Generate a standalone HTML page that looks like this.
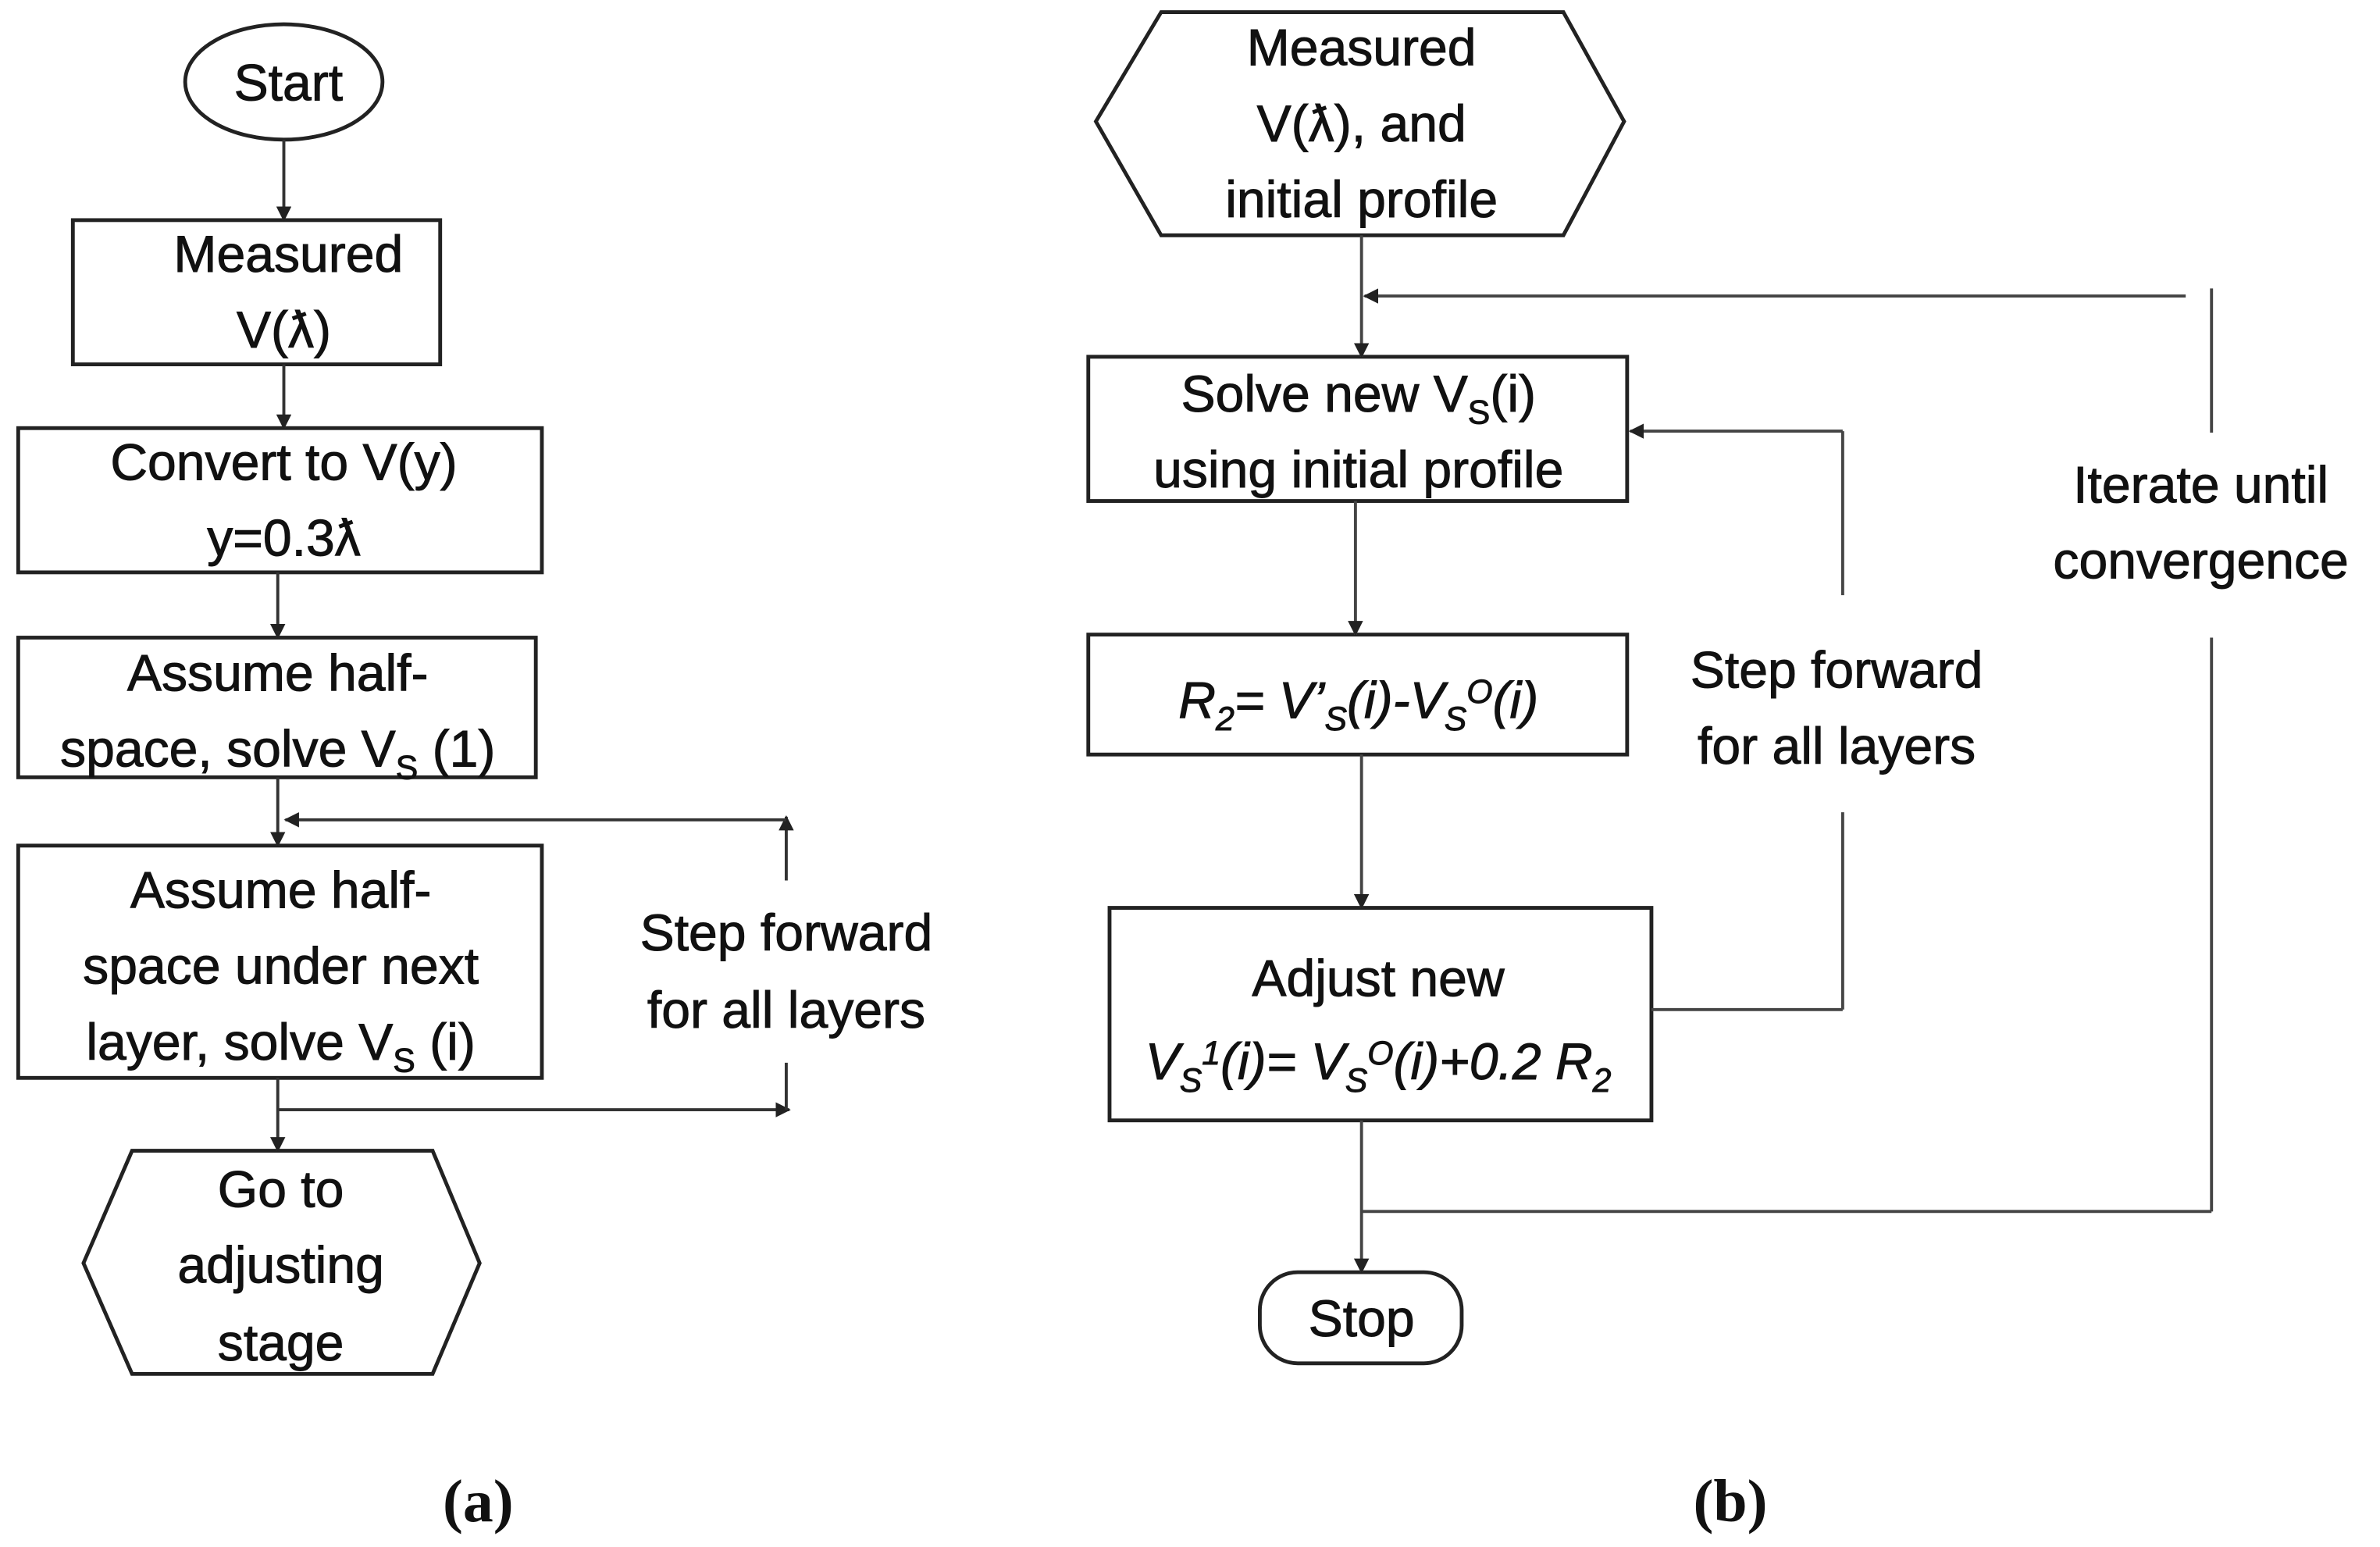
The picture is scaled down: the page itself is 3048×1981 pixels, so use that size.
<!DOCTYPE html>
<html><head><meta charset="utf-8"><style>
html,body{margin:0;padding:0;background:#fff;}
svg{display:block;}
text{font-family:"Liberation Sans",sans-serif;font-size:34px;fill:#111;stroke:#111;stroke-width:0.5;text-anchor:middle;}
.lab{font-family:"Liberation Serif",serif;font-size:40px;font-weight:bold;stroke-width:0;}
</style></head><body>
<svg width="3048" height="1981" viewBox="0 0 1568 1019" preserveAspectRatio="none" xmlns="http://www.w3.org/2000/svg">
<defs>
<marker id="a" markerWidth="10" markerHeight="10" refX="9" refY="5" orient="auto" markerUnits="userSpaceOnUse"><path d="M0,0 L10,5 L0,10 z" fill="#222"/></marker>
</defs>
<g stroke="#222" stroke-width="2.5" fill="none">
<ellipse cx="187" cy="54" rx="65" ry="38"/>
<rect x="48" y="145" width="242" height="95"/>
<rect x="12" y="282" width="345" height="95"/>
<rect x="12" y="420" width="341" height="92"/>
<rect x="12" y="557" width="345" height="153"/>
<polygon points="55,832 87,758 285,758 316,832 285,905 87,905"/>
</g>
<g stroke="#333" stroke-width="2" fill="none">
<line x1="187" y1="92" x2="187" y2="145" marker-end="url(#a)"/>
<line x1="187" y1="240" x2="187" y2="282" marker-end="url(#a)"/>
<line x1="183" y1="377" x2="183" y2="420" marker-end="url(#a)"/>
<line x1="183" y1="512" x2="183" y2="557" marker-end="url(#a)"/>
<line x1="183" y1="710" x2="183" y2="758" marker-end="url(#a)"/>
<line x1="183" y1="731" x2="520" y2="731" marker-end="url(#a)"/>
<line x1="518" y1="731" x2="518" y2="700"/>
<line x1="518" y1="580" x2="518" y2="538" marker-end="url(#a)"/>
<line x1="518" y1="540" x2="188" y2="540" marker-end="url(#a)"/>
</g>
<text x="190" y="66">Start</text>
<text x="190" y="179">Measured</text>
<text x="187" y="229">V(ƛ)</text>
<text x="187" y="316">Convert to V(y)</text>
<text x="187" y="366">y=0.3ƛ</text>
<text x="183" y="455">Assume half-</text>
<text x="183" y="505">space, solve V<tspan font-size="22" dy="8">S</tspan><tspan dy="-8"> (1)</tspan></text>
<text x="185" y="598">Assume half-</text>
<text x="185" y="648">space under next</text>
<text x="185" y="698">layer, solve V<tspan font-size="22" dy="8">S</tspan><tspan dy="-8"> (i)</tspan></text>
<text x="185" y="795">Go to</text>
<text x="185" y="845">adjusting</text>
<text x="185" y="896">stage</text>
<text x="518" y="626">Step forward</text>
<text x="518" y="677">for all layers</text>
<text class="lab" x="315" y="1002">(a)</text>

<g stroke="#222" stroke-width="2.5" fill="none">
<polygon points="722,80 765,8 1030,8 1070,80 1030,155 765,155"/>
<rect x="717" y="235" width="355" height="95"/>
<rect x="717" y="418" width="355" height="79"/>
<rect x="731" y="598" width="357" height="140"/>
<rect x="830" y="838" width="133" height="60" rx="25"/>
</g>
<g stroke="#444" stroke-width="2" fill="none">
<line x1="897" y1="155" x2="897" y2="235" marker-end="url(#a)"/>
<line x1="1440" y1="195" x2="899" y2="195" marker-end="url(#a)"/>
<line x1="1457" y1="190" x2="1457" y2="285"/>
<line x1="1457" y1="420" x2="1457" y2="798"/>
<line x1="1457" y1="798" x2="897" y2="798"/>
<line x1="893" y1="330" x2="893" y2="418" marker-end="url(#a)"/>
<line x1="897" y1="497" x2="897" y2="598" marker-end="url(#a)"/>
<line x1="897" y1="738" x2="897" y2="838" marker-end="url(#a)"/>
<line x1="1088" y1="665" x2="1214" y2="665"/>
<line x1="1214" y1="665" x2="1214" y2="535"/>
<line x1="1214" y1="392" x2="1214" y2="284"/>
<line x1="1214" y1="284" x2="1074" y2="284" marker-end="url(#a)"/>
</g>
<text x="897" y="43">Measured</text>
<text x="897" y="93">V(ƛ), and</text>
<text x="897" y="143">initial profile</text>
<text x="895" y="271">Solve new V<tspan font-size="22" dy="8">S</tspan><tspan dy="-8">(i)</tspan></text>
<text x="895" y="321">using initial profile</text>
<text x="895" y="473" font-style="italic">R<tspan font-size="22" dy="8">2</tspan><tspan dy="-8">= V’</tspan><tspan font-size="22" dy="8">S</tspan><tspan dy="-8">(i)-V</tspan><tspan font-size="22" dy="8">S</tspan><tspan font-size="22" dy="-18">O</tspan><tspan dy="10">(i)</tspan></text>
<text x="908" y="656">Adjust new</text>
<text x="908" y="711" font-style="italic">V<tspan font-size="22" dy="8">S</tspan><tspan font-size="22" dy="-18">1</tspan><tspan dy="10">(i)= V</tspan><tspan font-size="22" dy="8">S</tspan><tspan font-size="22" dy="-18">O</tspan><tspan dy="10">(i)+0.2 R</tspan><tspan font-size="22" dy="8">2</tspan></text>
<text x="897" y="880">Stop</text>
<text x="1210" y="453">Step forward</text>
<text x="1210" y="503">for all layers</text>
<text x="1450" y="331">Iterate until</text>
<text x="1450" y="381">convergence</text>
<text class="lab" x="1140" y="1002">(b)</text>
</svg>
</body></html>
